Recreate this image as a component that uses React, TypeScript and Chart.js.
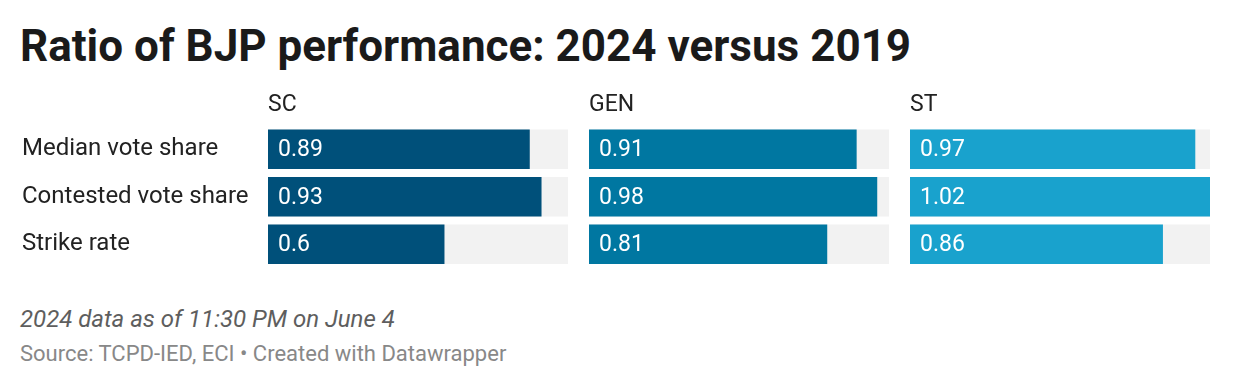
import React, { useEffect, useRef } from 'react';
import { Chart, registerables } from 'chart.js';

Chart.register(...registerables);

const categories = ['Median vote share', 'Contested vote share', 'Strike rate'];
const panelTitles = ['SC', 'GEN', 'ST'];
const scValues = [0.89, 0.93, 0.6];
const genValues = [0.91, 0.98, 0.81];
const stValues = [0.97, 1.02, 0.86];
const axisMax = 1.02;
const trackValues = [1.02, 1.02, 1.02];
const panelColors = ['#00507a', '#0077a1', '#19a2cd'];

const FONT = 'Roboto, "Noto Sans", sans-serif';

const valueLabels = {
  id: 'valueLabels',
  afterDatasetsDraw(chart: any) {
    const ctx = chart.ctx;
    const meta = chart.getDatasetMeta(0);
    const ds = chart.data.datasets[0];
    ctx.save();
    ctx.fillStyle = '#ffffff';
    ctx.font = `23px ${FONT}`;
    ctx.textAlign = 'left';
    ctx.textBaseline = 'middle';
    meta.data.forEach((bar: any, i: number) => {
      const v = ds.data[i];
      ctx.fillText(String(v), bar.base + 10, bar.y + 1);
    });
    ctx.restore();
  },
};

type PanelProps = {
  title: string;
  values: number[];
  color: string;
  showLabels: boolean;
  left: number;
  width: number;
};

function Panel({ title, values, color, showLabels, left, width }: PanelProps) {
  const ref = useRef<HTMLCanvasElement | null>(null);
  useEffect(() => {
    if (!ref.current) return;
    const yScale: any = {
      display: showLabels,
      grid: { display: false },
      border: { display: false },
      ticks: {
        crossAlign: 'far',
        color: '#222222',
        padding: 0,
        font: { family: FONT, size: 24 },
      },
    };
    if (showLabels) {
      yScale.afterFit = (s: any) => {
        s.width = 246;
        s.paddingTop = 0;
        s.paddingBottom = 0;
      };
    }
    const chart = new Chart(ref.current, {
      type: 'bar',
      data: {
        labels: categories,
        datasets: [
          {
            data: values,
            backgroundColor: color,
            barPercentage: 40 / 48,
            categoryPercentage: 1,
            grouped: false,
            order: 1,
          },
          {
            data: trackValues,
            backgroundColor: '#f2f2f2',
            barPercentage: 40 / 48,
            categoryPercentage: 1,
            grouped: false,
            order: 2,
          },
        ],
      },
      options: {
        indexAxis: 'y',
        animation: false,
        responsive: false,
        devicePixelRatio: 1,
        layout: { padding: 0 },
        plugins: {
          legend: { display: false },
          tooltip: { enabled: false },
          title: {
            display: true,
            text: title,
            align: 'start',
            fullSize: false,
            color: '#222222',
            font: { family: FONT, size: 23, weight: 'normal', lineHeight: 1.2 },
            padding: { top: 5, bottom: 7 },
          },
        },
        scales: {
          x: { display: false, min: 0, max: axisMax },
          y: yScale,
        },
      } as any,
      plugins: [valueLabels],
    });
    if ((document as any).fonts && (document as any).fonts.ready) {
      (document as any).fonts.ready.then(() => chart.update());
    }
    return () => chart.destroy();
  }, []);
  return (
    <canvas
      ref={ref}
      width={width}
      height={182}
      style={{ position: 'absolute', left, top: 86, width, height: 182 }}
    />
  );
}

export default function App() {
  const panelValues = [scValues, genValues, stValues];
  return (
    <div
      style={{
        position: 'absolute',
        left: 0,
        top: 0,
        width: 1240,
        height: 388,
        background: '#ffffff',
        fontFamily: FONT,
        overflow: 'hidden',
      }}
    >
      <div
        style={{
          position: 'absolute',
          left: 20,
          top: 24,
          fontSize: 44,
          lineHeight: '44px',
          fontWeight: 700,
          color: '#1a1a1a',
          whiteSpace: 'nowrap',
        }}
      >
        Ratio of BJP performance: 2024 versus 2019
      </div>
      <Panel title={panelTitles[0]} values={panelValues[0]} color={panelColors[0]} showLabels={true} left={22} width={546} />
      <Panel title={panelTitles[1]} values={panelValues[1]} color={panelColors[1]} showLabels={false} left={589} width={300} />
      <Panel title={panelTitles[2]} values={panelValues[2]} color={panelColors[2]} showLabels={false} left={910} width={300} />
      <div
        style={{
          position: 'absolute',
          left: 20,
          top: 307,
          fontSize: 24,
          lineHeight: '24px',
          fontStyle: 'italic',
          color: '#5e5e5e',
          whiteSpace: 'nowrap',
        }}
      >
        2024 data as of 11:30 PM on June 4
      </div>
      <div
        style={{
          position: 'absolute',
          left: 20,
          top: 343,
          fontSize: 22,
          lineHeight: '22px',
          color: '#888888',
          whiteSpace: 'nowrap',
        }}
      >
        Source: TCPD-IED, ECI • Created with Datawrapper
      </div>
    </div>
  );
}
